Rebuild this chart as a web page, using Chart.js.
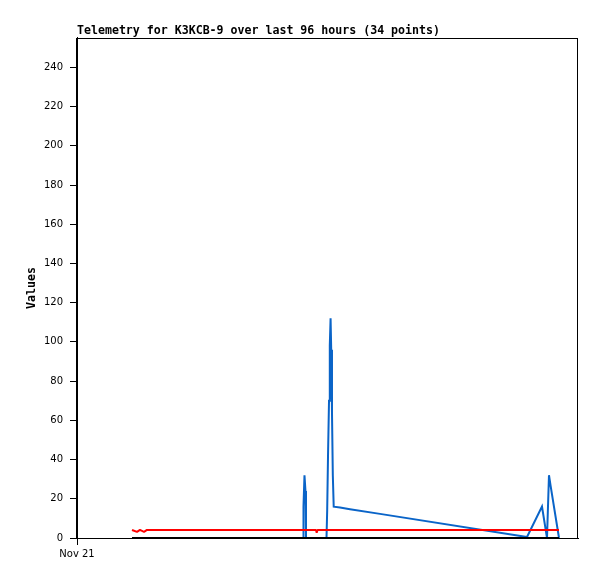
<!DOCTYPE html>
<html>
<head>
<meta charset="utf-8">
<title>Telemetry for K3KCB-9</title>
<script src="https://cdn.jsdelivr.net/npm/chart.js@4/dist/chart.umd.min.js"></script>
<style>
  html, body { margin: 0; padding: 0; background: #fff; }
  canvas { display: block; }
</style>
</head>
<body>
<canvas id="grafico" width="597" height="579"></canvas>
<script>
// horas desde Nov 21 00:00 (janela de 96 horas)
const horas = [10.54, 11.50, 12.07, 12.84, 13.41, 23.57, 35.07, 43.31, 43.40, 43.59,
  43.78, 43.88, 45.80, 45.93, 46.08, 47.81, 47.94, 48.10, 48.29, 48.44,
  48.59, 48.71, 48.86, 49.02, 49.19, 50.40, 52.31, 58.06, 86.23, 89.10,
  90.06, 90.44, 90.73, 92.36];

const serieAzul = [0, 0, 0, 0, 0, 0, 0, 0, 16, 32,
  24, 0, 0, 0, 0, 0, 14, 42, 70, 98,
  112, 96, 64, 32, 16, 15.5, 14.7, 12.3, 0.5, 16,
  0, 32, 27, 0];

const serieVermelha = [4.1, 3.1, 4.1, 3.1, 4.1, 4.1, 4.1, 4.1, 4.1, 4.1,
  4.1, 4.1, 4.1, 2.7, 4.1, 4.1, 4.1, 4.1, 4.1, 4.1,
  4.1, 4.1, 4.1, 4.1, 4.1, 4.1, 4.1, 4.1, 4.1, 4.1,
  4.1, 4.1, 4.1, 4.1];

const seriePreta = horas.map(() => 0);

const ticksY = [0, 20, 40, 60, 80, 100, 120, 140, 160, 180, 200, 220, 240];
const ticksX = [0];
const rotulosX = ['Nov 21'];

const pontos = (valores) => horas.map((h, i) => ({ x: h, y: valores[i] }));

const fonteMono = { family: '"DejaVu Sans Mono", monospace', size: 11.6, weight: 'bold', lineHeight: 1.2 };
const fonteTicks = { family: '"DejaVu Sans", sans-serif', size: 10 };

// moldura em volta da área do gráfico
const moldura = {
  id: 'moldura',
  beforeDatasetsDraw(chart) {
    const { ctx, chartArea: a } = chart;
    ctx.save();
    ctx.strokeStyle = '#000';
    ctx.lineWidth = 1;
    ctx.strokeRect(Math.round(a.left) - 0.5, Math.round(a.top) + 0.5, Math.round(a.right - a.left), Math.round(a.bottom - a.top));
    ctx.restore();
  }
};

new Chart(document.getElementById('grafico'), {
  type: 'line',
  data: {
    datasets: [
      { label: 'preta', data: pontos(seriePreta), borderColor: '#000000', borderWidth: 2 },
      { label: 'vermelha', data: pontos(serieVermelha), borderColor: '#ff0000', borderWidth: 2, borderJoinStyle: 'bevel' },
      { label: 'azul', data: pontos(serieAzul), borderColor: '#0a64c8', borderWidth: 2 }
    ]
  },
  options: {
    responsive: false,
    animation: false,
    devicePixelRatio: 1,
    layout: { padding: { left: 0, right: 19, top: 0, bottom: 0 } },
    elements: { point: { radius: 0 }, line: { tension: 0 } },
    plugins: {
      legend: { display: false },
      tooltip: { enabled: false },
      title: {
        display: true,
        text: 'Telemetry for K3KCB-9 over last 96 hours (34 points)',
        align: 'start',
        fullSize: false,
        color: '#000',
        font: fonteMono,
        padding: { top: 24, bottom: 0 }
      }
    },
    scales: {
      x: {
        type: 'linear',
        min: 0,
        max: 96,
        afterFit: (s) => { s.height = 41; },
        afterBuildTicks: (s) => { s.ticks = ticksX.map((v) => ({ value: v })); },
        ticks: { color: '#000', font: fonteTicks, padding: 3, maxRotation: 0, callback: (v) => rotulosX[ticksX.indexOf(v)] ?? '' },
        grid: { drawOnChartArea: false, color: '#000', tickLength: 7 },
        border: { color: '#000', width: 1 }
      },
      y: {
        min: 0,
        max: 255,
        afterFit: (s) => { s.width = 77; },
        afterBuildTicks: (s) => { s.ticks = ticksY.map((v) => ({ value: v })); },
        ticks: { color: '#000', font: fonteTicks, padding: 7 },
        grid: { drawOnChartArea: false, color: '#000', tickLength: 7 },
        border: { color: '#000', width: 1 },
        title: { display: true, text: 'Values', color: '#000', font: fonteMono, padding: { top: 25, bottom: 0 } }
      }
    }
  },
  plugins: [moldura]
});
</script>
</body>
</html>
